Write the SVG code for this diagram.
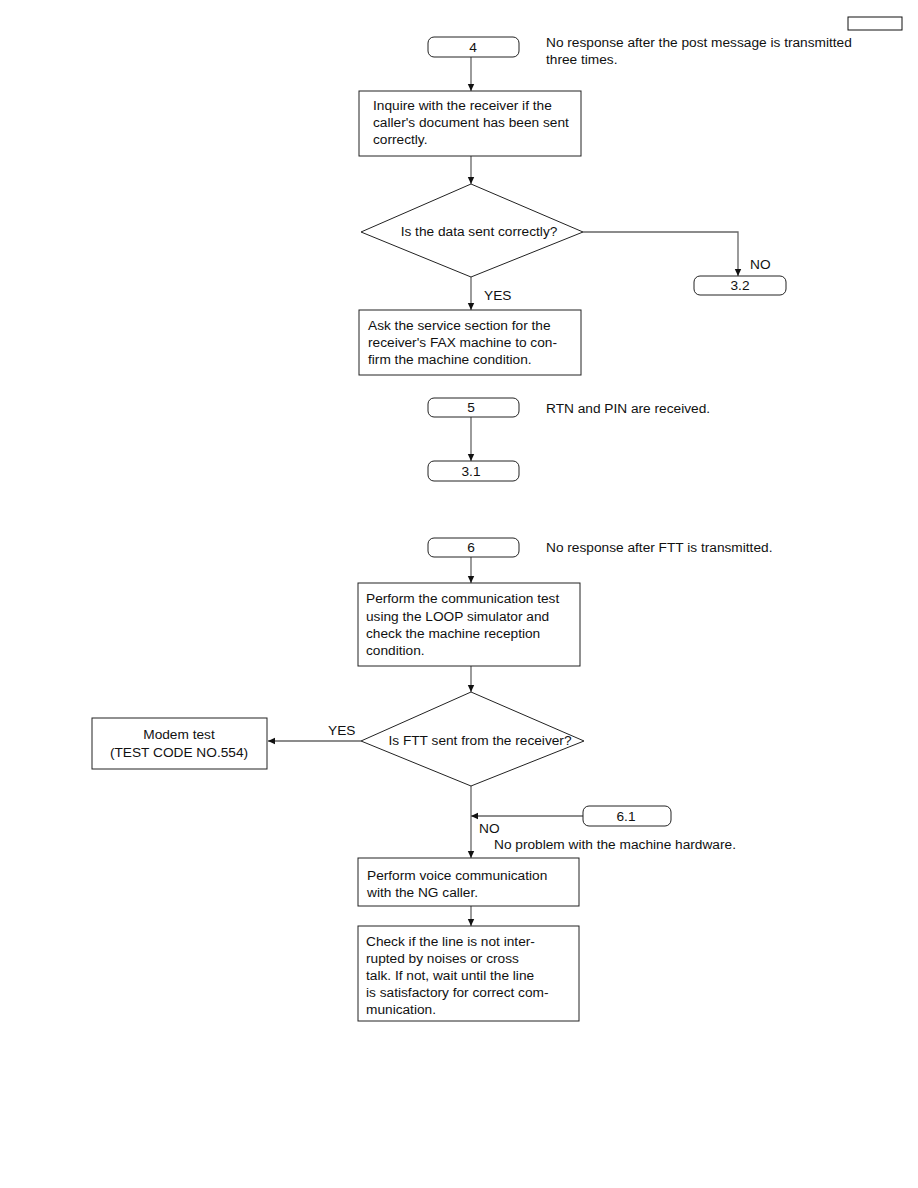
<svg xmlns="http://www.w3.org/2000/svg" width="918" height="1188" viewBox="0 0 918 1188">
<defs>
<marker id="arr" markerWidth="8" markerHeight="8" refX="7" refY="4" orient="auto" markerUnits="userSpaceOnUse">
<path d="M0,0.8 L7,4 L0,7.2 Z" fill="#111"/>
</marker>
<style>
text{font-family:"Liberation Sans",Arial,sans-serif;font-size:13.7px;fill:#111}
.mid{text-anchor:middle}
.box{fill:#fff;stroke:#222;stroke-width:1}
.term{fill:#fff;stroke:#222;stroke-width:1}
.con{fill:none;stroke:#666;stroke-width:1.3}
</style>
</defs>
<rect width="918" height="1188" fill="#fff"/>
<rect x="848" y="17" width="54" height="13" fill="#fff" stroke="#111" stroke-width="1"/>

<g id="connectors">
<path class="con" d="M471,57 V91" marker-end="url(#arr)"/>
<path class="con" d="M471,156 V184" marker-end="url(#arr)"/>
<path class="con" d="M583,232 H738 V276" marker-end="url(#arr)"/>
<path class="con" d="M471,277 V310" marker-end="url(#arr)"/>
<path class="con" d="M471,417 V461" marker-end="url(#arr)"/>
<path class="con" d="M471,557 V583" marker-end="url(#arr)"/>
<path class="con" d="M471,666 V692" marker-end="url(#arr)"/>
<path class="con" d="M361,741 H268" marker-end="url(#arr)"/>
<path class="con" d="M471,786 V858" marker-end="url(#arr)"/>
<path class="con" d="M583,816 H471" marker-end="url(#arr)"/>
<path class="con" d="M471,906 V926" marker-end="url(#arr)"/>
<text x="750" y="269">NO</text>
<text x="484" y="300">YES</text>
<text x="328" y="735">YES</text>
<text x="479" y="833">NO</text>
</g>

<g id="t4">
<rect class="term" x="428" y="37" width="91" height="20" rx="6"/>
<text class="mid" x="473" y="52">4</text>
<text x="546" y="47">No response after the post message is transmitted</text>
<text x="546" y="64">three times.</text>
</g>
<g id="b1">
<rect class="box" x="359" y="91" width="222" height="65"/>
<text x="373" y="110">Inquire with the receiver if the</text>
<text x="373" y="127">caller's document has been sent</text>
<text x="373" y="144">correctly.</text>
</g>
<g id="d1">
<path class="box" d="M471,184 L583,232 L471,277 L361,232 Z"/>
<text class="mid" x="479" y="236">Is the data sent correctly?</text>
</g>
<g id="t32">
<rect class="term" x="694" y="276" width="92" height="19" rx="6"/>
<text class="mid" x="740" y="290">3.2</text>
</g>
<g id="b2">
<rect class="box" x="359" y="310" width="222" height="65"/>
<text x="368" y="330">Ask the service section for the</text>
<text x="368" y="347">receiver's FAX machine to con-</text>
<text x="368" y="364">firm the machine condition.</text>
</g>
<g id="t5">
<rect class="term" x="428" y="398" width="91" height="19" rx="6"/>
<text class="mid" x="471" y="412">5</text>
<text x="546" y="413">RTN and PIN are received.</text>
</g>
<g id="t31">
<rect class="term" x="428" y="461" width="91" height="20" rx="6"/>
<text class="mid" x="471" y="476">3.1</text>
</g>
<g id="t6">
<rect class="term" x="428" y="538" width="91" height="19" rx="6"/>
<text class="mid" x="471" y="552">6</text>
<text x="546" y="552">No response after FTT is transmitted.</text>
</g>
<g id="b3">
<rect class="box" x="358" y="583" width="222" height="83"/>
<text x="366" y="603">Perform the communication test</text>
<text x="366" y="621">using the LOOP simulator and</text>
<text x="366" y="638">check the machine reception</text>
<text x="366" y="655">condition.</text>
</g>
<g id="d2">
<path class="box" d="M471,692 L584,741 L471,786 L361,741 Z"/>
<text class="mid" x="480" y="745">Is FTT sent from the receiver?</text>
</g>
<g id="modem">
<rect class="box" x="92" y="718" width="175" height="51"/>
<text class="mid" x="179" y="739">Modem test</text>
<text class="mid" x="179" y="757">(TEST CODE NO.554)</text>
</g>
<g id="t61">
<rect class="term" x="583" y="806" width="88" height="20" rx="6"/>
<text class="mid" x="626" y="821">6.1</text>
<text x="494" y="849">No problem with the machine hardware.</text>
</g>
<g id="b4">
<rect class="box" x="358" y="858" width="221" height="48"/>
<text x="367" y="880">Perform voice communication</text>
<text x="367" y="897">with the NG caller.</text>
</g>
<g id="b5">
<rect class="box" x="358" y="926" width="221" height="95"/>
<text x="366" y="946">Check if the line is not inter-</text>
<text x="366" y="963">rupted by noises or cross</text>
<text x="366" y="980">talk. If not, wait until the line</text>
<text x="366" y="997">is satisfactory for correct com-</text>
<text x="366" y="1014">munication.</text>
</g>
</svg>
